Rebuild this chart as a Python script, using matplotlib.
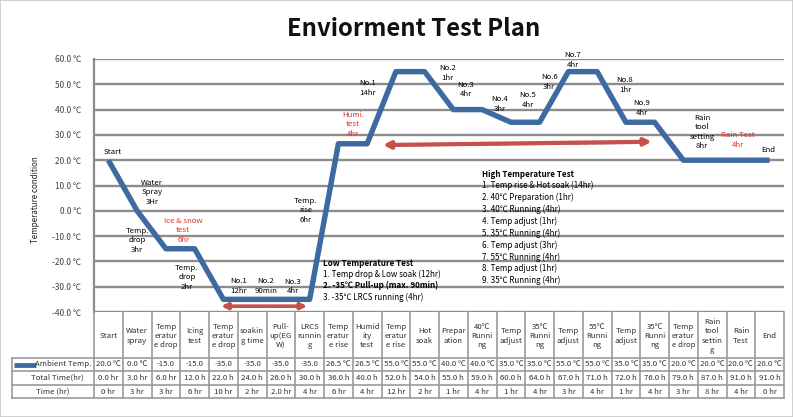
import matplotlib
matplotlib.use('Agg')
import matplotlib.pyplot as plt
from matplotlib.patches import Rectangle

FONT = ['Noto Sans CJK KR', 'DejaVu Sans']
plt.rcParams['font.family'] = FONT

# ---------------- data ----------------
categories = ["Start", "Water\nspray", "Temp\neratur\ne drop", "Icing\ntest",
              "Temp\neratur\ne drop", "soakin\ng time", "Pull-\nup(EG\nW)", "LRCS\nrunnin\ng",
              "Temp\neratur\ne rise", "Humid\nity\ntest", "Temp\neratur\ne rise", "Hot\nsoak",
              "Prepar\nation", "40℃\nRunni\nng", "Temp\nadjust", "35℃\nRunni\nng",
              "Temp\nadjust", "55℃\nRunni\nng", "Temp\nadjust", "35℃\nRunni\nng",
              "Temp\neratur\ne drop", "Rain\ntool\nsettin\ng", "Rain\nTest", "End"]
temps = [20.0, 0.0, -15.0, -15.0, -35.0, -35.0, -35.0, -35.0, 26.5, 26.5, 55.0, 55.0,
         40.0, 40.0, 35.0, 35.0, 55.0, 55.0, 35.0, 35.0, 20.0, 20.0, 20.0, 20.0]
total_time = [0.0, 3.0, 6.0, 12.0, 22.0, 24.0, 26.0, 30.0, 36.0, 40.0, 52.0, 54.0,
              55.0, 59.0, 60.0, 64.0, 67.0, 71.0, 72.0, 76.0, 79.0, 87.0, 91.0, 91.0]
time_labels = ["0 hr", "3 hr", "3 hr", "6 hr", "10 hr", "2 hr", "2.0 hr", "4 hr", "6 hr",
               "4 hr", "12 hr", "2 hr", "1 hr", "4 hr", "1 hr", "4 hr", "3 hr", "4 hr",
               "1 hr", "4 hr", "3 hr", "8 hr", "4 hr", "0 hr"]
yticks = [60, 50, 40, 30, 20, 10, 0, -10, -20, -30, -40]

low_test = ["1. Temp drop & Low soak (12hr)", "2. -35℃ Pull-up (max. 90min)",
            "3. -35℃ LRCS running (4hr)"]
high_test = ["1. Temp rise & Hot soak (14hr)", "2. 40℃ Preparation (1hr)",
             "3. 40℃ Running (4hr)", "4. Temp adjust (1hr)", "5. 35℃ Running (4hr)",
             "6. Temp adjust (3hr)", "7. 55℃ Running (4hr)", "8. Temp adjust (1hr)",
             "9. 35℃ Running (4hr)"]

# annotations: (text, x[category units], y[deg C], color)
annotations = [
    ("Start", 0.16, 23.2, 'k'),
    ("Water\nSpray\n3Hr", 1.52, 7.4, 'k'),
    ("Temp.\ndrop\n3hr", 1.0, -11.6, 'k'),
    ("Ice & snow\ntest\n6hr", 2.6, -7.7, '#E0302A'),
    ("Temp.\ndrop\n2hr", 2.73, -26.3, 'k'),
    ("No.1\n12hr", 4.54, -29.8, 'k'),
    ("No.2\n90min", 5.48, -29.8, 'k'),
    ("No.3\n4hr", 6.42, -30.0, 'k'),
    ("Temp.\nrise\n6hr", 6.87, 0.2, 'k'),
    ("Humi.\ntest\n4hr", 8.5, 34.3, '#E0302A'),
    ("No.1\n14hr", 9.03, 48.5, 'k'),
    ("No.2\n1hr", 11.8, 54.5, 'k'),
    ("No.3\n4hr", 12.44, 48.0, 'k'),
    ("No.4\n3hr", 13.6, 42.2, 'k'),
    ("No.5\n4hr", 14.6, 43.8, 'k'),
    ("No.6\n3hr", 15.33, 50.9, 'k'),
    ("No.7\n4hr", 16.16, 59.6, 'k'),
    ("No.8\n1hr", 17.97, 49.7, 'k'),
    ("No.9\n4hr", 18.56, 40.6, 'k'),
    ("Rain\ntool\nsetting\n8hr", 20.65, 31.1, 'k'),
    ("Rain Test\n4hr", 21.9, 28.0, '#E0302A'),
    ("End", 22.94, 24.0, 'k'),
]

# ---------------- layout ----------------
W, H = 793, 417
fig = plt.figure(figsize=(W / 100, H / 100), dpi=100)
fig.patch.set_facecolor('white')
fig.patches.append(Rectangle((0, 0), 1, 1, transform=fig.transFigure, fill=False,
                             ec='#c8c8c8', lw=1.2))


def px_rect(l, t, r, b):
    return [l / W, 1 - b / H, (r - l) / W, (b - t) / H]


PL, PR, PT, PB = 94, 784, 59, 312
colw = (PR - PL) / len(categories)
GRID = '#8c8c8c'
LINE = '#3E6AA2'
RED = '#C8504A'

ax = fig.add_axes(px_rect(PL, PT, PR, PB))
x = list(range(len(categories)))
ax.set_xlim(-0.5, len(categories) - 0.5)
ax.set_ylim(-40, 60)
for v in yticks:
    ax.axhline(v, color=GRID, lw=1.7, zorder=1)
ax.plot(x, temps, color=LINE, lw=3.9, solid_joinstyle='round', solid_capstyle='butt', zorder=3)
for s in ['top', 'right', 'bottom']:
    ax.spines[s].set_visible(False)
ax.spines['left'].set_color(GRID)
ax.spines['left'].set_linewidth(1.6)
ax.set_yticks(yticks)
ax.set_yticklabels([f"{v:.1f} ℃" for v in yticks], fontsize=6, color='#404040')
ax.tick_params(axis='y', length=0, pad=9)
ax.set_xticks([])
ax.patch.set_alpha(0)

fig.text(36 / W, 1 - 200 / H, 'Temperature condition', rotation=90, fontsize=5.8,
         ha='center', va='center', color='#222222')
fig.text(414 / W, 1 - 29 / H, 'Enviorment Test Plan', fontsize=17.2, fontweight='bold',
         ha='center', va='center', color='#111111')

for txt, tx_, ty, c in annotations:
    ax.text(tx_, ty, txt, ha='center', va='center', fontsize=5.6, color=c,
            linespacing=1.25, zorder=4)

# arrows
ax.annotate('', xy=(6.92, -37.7), xytext=(3.92, -37.7),
            arrowprops=dict(arrowstyle='<|-|>', color=RED, lw=2.6, mutation_scale=9,
                            shrinkA=0, shrinkB=0), zorder=4)
ax.plot([9.75, 18.7], [25.6, 26.7], ls=(0, (1, 1.2)), color='k', lw=0.9, zorder=4)
ax.annotate('', xy=(18.9, 27.3), xytext=(9.55, 26.0),
            arrowprops=dict(arrowstyle='<|-|>', color=RED, lw=3.0, mutation_scale=10,
                            shrinkA=0, shrinkB=0), zorder=4)


# text blocks
def to_data(pxx, pxy):
    return (pxx - PL) / colw - 0.5, 60 - (pxy - PT) * 100 / (PB - PT)


lx, ly = to_data(323, 263)
ax.text(lx, ly, "Low Temperature Test", fontsize=5.8, fontweight='bold', ha='left',
        va='center', zorder=4)
for i, s in enumerate(low_test):
    lx, ly = to_data(323, 274.5 + i * 11.3)
    ax.text(lx, ly, s, fontsize=5.8, fontweight='bold' if i == 1 else 'normal',
            ha='left', va='center', zorder=4)

hx, hy = to_data(482, 174.3)
ax.text(hx, hy, "High Temperature Test", fontsize=5.8, fontweight='bold', ha='left',
        va='center', zorder=4)
for i, s in enumerate(high_test):
    hx, hy = to_data(482, 185.5 + i * 11.9)
    ax.text(hx, hy, s, fontsize=5.8, ha='left', va='center', zorder=4)

# ---------------- data table ----------------
TL, TR, TT, TB = 12, 784, 312, 398
rows_y = [358, 371, 385, 398]
axt = fig.add_axes(px_rect(TL, TT, TR, TB))
xl = -0.5 - (PL - TL) / colw
axt.set_xlim(xl, len(categories) - 0.5)
axt.set_ylim(TB, TT)
axt.axis('off')
TGRID = '#9a9a9a'
for i in range(len(categories) + 1):
    axt.plot([i - 0.5, i - 0.5], [TT, TB], color=TGRID, lw=1.2, clip_on=False)
axt.plot([xl, xl], [rows_y[0], TB], color=TGRID, lw=1.2, clip_on=False)
for yy in rows_y:
    axt.plot([xl, len(categories) - 0.5], [yy, yy], color=TGRID, lw=1.2, clip_on=False)

TC = '#303030'
for i, c in enumerate(categories):
    axt.text(i, (TT + rows_y[0]) / 2 + 1, c, ha='center', va='center', fontsize=5.6,
             color=TC, linespacing=1.2)
    t = temps[i]
    tl = f"{t:.1f} ℃" if t >= 0 else f"{t:.1f}"
    axt.text(i, (rows_y[0] + rows_y[1]) / 2, tl, ha='center', va='center', fontsize=5.6, color=TC)
    tt = total_time[i]
    ttl = f"{tt:.1f} hr" if tt < 10 else f"{tt:.1f} h"
    axt.text(i, (rows_y[1] + rows_y[2]) / 2, ttl, ha='center', va='center', fontsize=5.6, color=TC)
    axt.text(i, (rows_y[2] + rows_y[3]) / 2, time_labels[i], ha='center', va='center',
             fontsize=5.6, color=TC)


def tx(pxx):
    return -0.5 + (pxx - PL) / colw


axt.plot([tx(14), tx(36)], [(rows_y[0] + rows_y[1]) / 2] * 2, color=LINE, lw=3.5,
         solid_capstyle='butt')
axt.text(tx(91), (rows_y[0] + rows_y[1]) / 2, "Ambient Temp.", ha='right', va='center',
         fontsize=5.6, color=TC)
axt.text(tx(57), (rows_y[1] + rows_y[2]) / 2, "Total Time(hr)", ha='center', va='center',
         fontsize=5.6, color=TC)
axt.text(tx(53), (rows_y[2] + rows_y[3]) / 2, "Time (hr)", ha='center', va='center',
         fontsize=5.6, color=TC)

fig.savefig('out.png', dpi=100)
